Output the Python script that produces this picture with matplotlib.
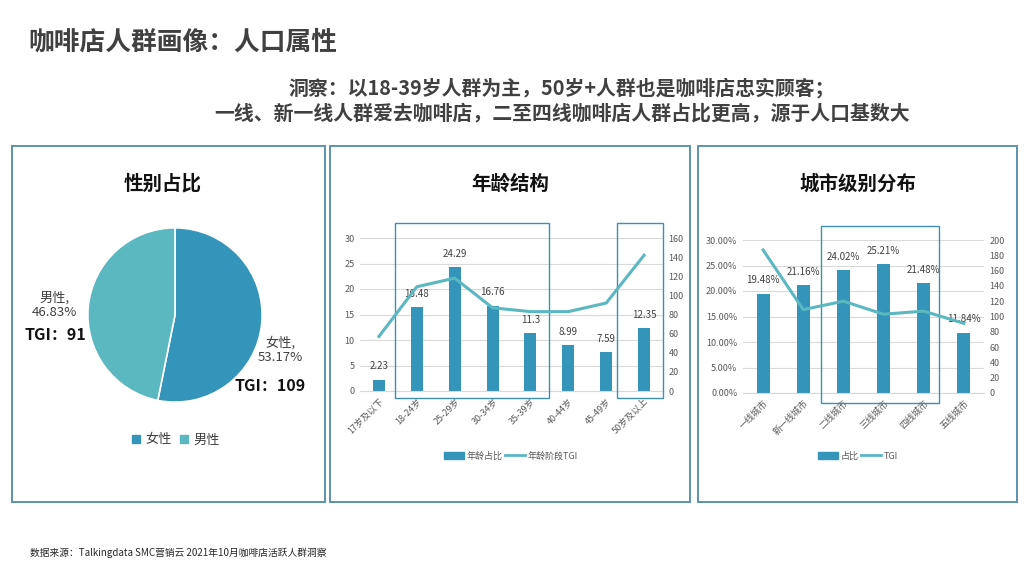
import matplotlib
matplotlib.use("Agg")
import matplotlib.pyplot as plt
from matplotlib.patches import Rectangle, Patch
from matplotlib.lines import Line2D
from matplotlib.ticker import PercentFormatter, MultipleLocator

plt.rcParams['font.family'] = ['Noto Sans CJK SC', 'DejaVu Sans']

# ---- data ----
gender_labels = ['女性', '男性']
gender_share = [53.17, 46.83]
gender_tgi = [109, 91]

age_groups = ['17岁及以下', '18-24岁', '25-29岁', '30-34岁', '35-39岁', '40-44岁', '45-49岁', '50岁及以上']
age_share = [2.23, 16.48, 24.29, 16.76, 11.3, 8.99, 7.59, 12.35]
age_tgi = [57, 109, 118, 87, 83, 83, 92, 142]

city_levels = ['一线城市', '新一线城市', '二线城市', '三线城市', '四线城市', '五线城市']
city_share = [0.1948, 0.2116, 0.2402, 0.2521, 0.2148, 0.1184]
city_tgi = [187, 109, 120, 103, 107, 91]

BAR = '#3494ba'
LINE = '#5bb7c0'
FRAME = '#5b93ad'
BOX = '#3d8fb5'
GRID = '#d9d9d9'
TICK = '#595959'

W, H = 1024, 576
fig = plt.figure(figsize=(W / 100, H / 100), dpi=100)


def fx(x):
    return x / W


def fy(y):
    return 1 - y / H


def axes_px(x0, y0, x1, y1):
    return fig.add_axes([fx(x0), fy(y1), fx(x1) - fx(x0), (y1 - y0) / H])


# panel frames
for x0, x1 in [(12, 325), (330, 690), (698, 1017)]:
    fig.patches.append(Rectangle((fx(x0), fy(502)), fx(x1) - fx(x0), (502 - 146) / H,
                                 transform=fig.transFigure, fill=False,
                                 edgecolor=FRAME, linewidth=1.4))

# titles
fig.text(fx(28), fy(42), '咖啡店人群画像：人口属性', fontsize=18.5, fontweight='bold',
         color='#404040', va='center', ha='left')
fig.text(fx(562), fy(88), '洞察：以18-39岁人群为主，50岁+人群也是咖啡店忠实顾客；', fontsize=14.3,
         fontweight='bold', color='#404040', va='center', ha='center')
fig.text(fx(562), fy(113), '一线、新一线人群爱去咖啡店，二至四线咖啡店人群占比更高，源于人口基数大',
         fontsize=14.3, fontweight='bold', color='#404040', va='center', ha='center')
fig.text(fx(30), fy(553), '数据来源：Talkingdata SMC营销云 2021年10月咖啡店活跃人群洞察',
         fontsize=7, color='#262626', va='center', ha='left')

for cx, t in [(163, '性别占比'), (510, '年龄结构'), (858, '城市级别分布')]:
    fig.text(fx(cx), fy(184), t, fontsize=14, fontweight='bold', color='#111111',
             va='center', ha='center')

# ---- pie ----
axp = axes_px(87, 227, 263, 403)
axp.pie(gender_share, colors=[BAR, LINE], startangle=90, counterclock=False, radius=1,
        wedgeprops=dict(edgecolor='white', linewidth=1.2))
axp.set_xlim(-1.01, 1.01)
axp.set_ylim(-1.01, 1.01)
axp.set_aspect('equal')
fig.text(fx(54), fy(305), f'{gender_labels[1]},\n{gender_share[1]:.2f}%', fontsize=9.5,
         color='#404040', ha='center', va='center', linespacing=1.1)
fig.text(fx(55), fy(335), f'TGI：{gender_tgi[1]}', fontsize=11.5, fontweight='bold',
         color='#111111', ha='center', va='center')
fig.text(fx(280), fy(350), f'{gender_labels[0]},\n{gender_share[0]:.2f}%', fontsize=9.5,
         color='#404040', ha='center', va='center', linespacing=1.1)
fig.text(fx(270), fy(386), f'TGI：{gender_tgi[0]}', fontsize=11.5, fontweight='bold',
         color='#111111', ha='center', va='center')
fig.legend(handles=[Patch(color=BAR, label=gender_labels[0]), Patch(color=LINE, label=gender_labels[1])],
           loc='center', bbox_to_anchor=(fx(176), fy(440)), ncol=2, frameon=False,
           fontsize=9.5, handlelength=0.6, handleheight=0.6, handletextpad=0.4,
           columnspacing=0.6, labelcolor='#404040')


def style_bar_axes(ax, ax2):
    for a in (ax, ax2):
        for s in a.spines.values():
            s.set_visible(False)
        a.tick_params(length=0, labelsize=6.5, colors=TICK, pad=4)
    ax.spines['bottom'].set_visible(True)
    ax.spines['bottom'].set_color(GRID)
    ax.yaxis.grid(True, color=GRID, linewidth=0.8)
    ax.set_axisbelow(True)


# ---- age chart ----
ax = axes_px(360, 238, 663, 391)
xs = list(range(len(age_groups)))
ax.bar(xs, age_share, width=0.32, color=BAR)
ax.set_xlim(-0.5, len(age_groups) - 0.5)
ax.set_ylim(0, 30)
ax.yaxis.set_major_locator(MultipleLocator(5))
ax.set_xticks(xs)
ax.set_xticklabels(age_groups, rotation=45, ha='right', rotation_mode='anchor')
for x, v in zip(xs, age_share):
    ax.annotate(str(v), (x, v), xytext=(0, 6), textcoords='offset points',
                ha='center', va='bottom', fontsize=7, color='#404040')
ax2 = ax.twinx()
ax2.plot(xs, age_tgi, color=LINE, linewidth=2.2)
ax2.set_ylim(0, 160)
ax2.yaxis.set_major_locator(MultipleLocator(20))
style_bar_axes(ax, ax2)
for a, b in [(0.42, 4.49), (6.29, 7.5)]:
    ax.add_patch(Rectangle((a, -1.4), b - a, 34.3, fill=False, edgecolor=BOX,
                           linewidth=1.0, clip_on=False, zorder=5))
fig.legend(handles=[Patch(color=BAR, label='年龄占比'),
                    Line2D([], [], color=LINE, linewidth=2, label='年龄阶段TGI')],
           loc='center', bbox_to_anchor=(fx(511), fy(456)), ncol=2, frameon=False,
           fontsize=6.5, handlelength=2.2, handletextpad=0.3, columnspacing=0.3,
           labelcolor=TICK)

# ---- city chart ----
ax = axes_px(743, 240, 984, 393)
xs = list(range(len(city_levels)))
ax.bar(xs, city_share, width=0.32, color=BAR)
ax.set_xlim(-0.5, len(city_levels) - 0.5)
ax.set_ylim(0, 0.30)
ax.yaxis.set_major_locator(MultipleLocator(0.05))
ax.yaxis.set_major_formatter(PercentFormatter(xmax=1, decimals=2))
ax.set_xticks(xs)
ax.set_xticklabels(city_levels, rotation=45, ha='right', rotation_mode='anchor')
for x, v in zip(xs, city_share):
    ax.annotate(f'{v:.2%}', (x, v), xytext=(0, 6), textcoords='offset points',
                ha='center', va='bottom', fontsize=7, color='#404040')
ax2 = ax.twinx()
ax2.plot(xs, city_tgi, color=LINE, linewidth=2.2)
ax2.set_ylim(0, 200)
ax2.yaxis.set_major_locator(MultipleLocator(20))
style_bar_axes(ax, ax2)
ax.add_patch(Rectangle((1.45, -0.02), 2.93, 0.3475, fill=False, edgecolor=BOX,
                       linewidth=1.0, clip_on=False, zorder=5))
fig.legend(handles=[Patch(color=BAR, label='占比'),
                    Line2D([], [], color=LINE, linewidth=2, label='TGI')],
           loc='center', bbox_to_anchor=(fx(858), fy(456)), ncol=2, frameon=False,
           fontsize=6.5, handlelength=2.2, handletextpad=0.3, columnspacing=0.3,
           labelcolor=TICK)

fig.savefig('out.png', dpi=100)
